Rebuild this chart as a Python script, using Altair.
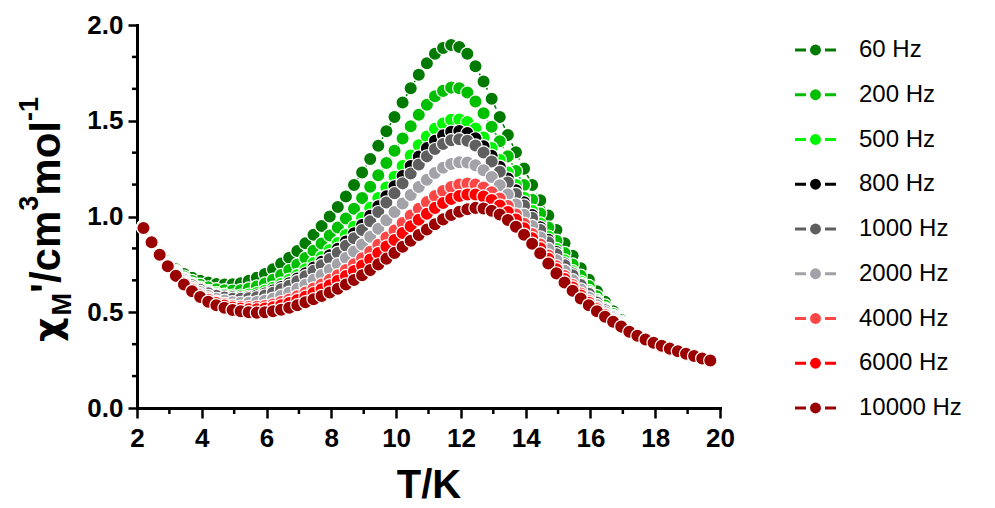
import altair as alt
import pandas as pd

# ---------------- data ----------------
SERIES = ["60 Hz", "200 Hz", "500 Hz", "800 Hz", "1000 Hz",
          "2000 Hz", "4000 Hz", "6000 Hz", "10000 Hz"]
COLORS = ["#007A00", "#00BE00", "#00F500", "#000000", "#5F5F5F",
          "#A2A2A8", "#FF4646", "#FF0000", "#9B0000"]

T = [2.2, 2.45, 2.7, 2.95, 3.2, 3.45, 3.7, 3.95, 4.2, 4.45,
     4.7, 4.95, 5.2, 5.45, 5.7, 5.95, 6.2, 6.45, 6.7, 6.95,
     7.2, 7.45, 7.7, 7.95, 8.2, 8.45, 8.7, 8.95, 9.2, 9.45,
     9.7, 9.95, 10.2, 10.45, 10.7, 10.95, 11.2, 11.45, 11.7, 11.95,
     12.2, 12.45, 12.7, 12.95, 13.2, 13.45, 13.7, 13.95, 14.2, 14.45,
     14.7, 14.95, 15.2, 15.45, 15.7, 15.95, 16.2, 16.45, 16.7, 16.95,
     17.2, 17.45, 17.7, 17.95, 18.2, 18.45, 18.7, 18.95, 19.2, 19.45,
     19.7]

chi_60 = [0.95, 0.88, 0.815, 0.765, 0.725, 0.70, 0.68, 0.665, 0.655, 0.648,
          0.645, 0.646, 0.652, 0.665, 0.68, 0.70, 0.725, 0.755, 0.785, 0.82,
          0.86, 0.905, 0.95, 1.00, 1.05, 1.105, 1.165, 1.23, 1.30, 1.37,
          1.445, 1.52, 1.595, 1.67, 1.74, 1.80, 1.85, 1.88, 1.895, 1.885,
          1.85, 1.785, 1.705, 1.615, 1.52, 1.425, 1.335, 1.25, 1.165, 1.085,
          1.005, 0.93, 0.86, 0.795, 0.73, 0.67, 0.61, 0.555, 0.505, 0.46,
          0.422, 0.39, 0.363, 0.343, 0.327, 0.311, 0.297, 0.284, 0.272, 0.26,
          0.249]

chi_200 = [0.948, 0.876, 0.811, 0.759, 0.716, 0.686, 0.663, 0.644, 0.630, 0.620,
           0.615, 0.613, 0.615, 0.624, 0.635, 0.650, 0.670, 0.695, 0.720, 0.749,
           0.783, 0.821, 0.859, 0.901, 0.943, 0.990, 1.041, 1.096, 1.155, 1.215,
           1.279, 1.343, 1.407, 1.471, 1.531, 1.583, 1.628, 1.656, 1.673, 1.670,
           1.647, 1.600, 1.539, 1.469, 1.393, 1.314, 1.238, 1.164, 1.088, 1.016,
           0.943, 0.873, 0.809, 0.749, 0.691, 0.637, 0.584, 0.535, 0.491, 0.451,
           0.416, 0.387, 0.362, 0.343, 0.327, 0.311, 0.297, 0.284, 0.272, 0.260,
           0.249]

chi_500 = [0.946, 0.873, 0.808, 0.754, 0.710, 0.676, 0.649, 0.628, 0.611, 0.599,
           0.591, 0.587, 0.587, 0.592, 0.600, 0.612, 0.628, 0.649, 0.670, 0.695,
           0.724, 0.757, 0.789, 0.825, 0.862, 0.903, 0.946, 0.994, 1.045, 1.097,
           1.152, 1.208, 1.264, 1.319, 1.372, 1.418, 1.458, 1.486, 1.505, 1.507,
           1.493, 1.459, 1.413, 1.358, 1.296, 1.230, 1.164, 1.098, 1.030, 0.963,
           0.895, 0.830, 0.770, 0.714, 0.660, 0.611, 0.564, 0.520, 0.481, 0.445,
           0.411, 0.384, 0.361, 0.342, 0.326, 0.311, 0.297, 0.284, 0.272, 0.260,
           0.249]

chi_800 = [0.945, 0.872, 0.807, 0.752, 0.707, 0.672, 0.644, 0.622, 0.604, 0.591,
           0.583, 0.578, 0.577, 0.581, 0.587, 0.598, 0.613, 0.632, 0.651, 0.676,
           0.703, 0.733, 0.764, 0.798, 0.832, 0.870, 0.912, 0.956, 1.004, 1.054,
           1.106, 1.158, 1.211, 1.264, 1.313, 1.357, 1.396, 1.424, 1.443, 1.446,
           1.436, 1.408, 1.367, 1.317, 1.260, 1.199, 1.137, 1.074, 1.008, 0.944,
           0.878, 0.814, 0.755, 0.702, 0.649, 0.602, 0.556, 0.515, 0.477, 0.442,
           0.410, 0.383, 0.360, 0.342, 0.326, 0.310, 0.296, 0.283, 0.271, 0.259,
           0.248]

chi_1000 = [0.944, 0.872, 0.807, 0.751, 0.705, 0.669, 0.641, 0.617, 0.599, 0.586,
            0.577, 0.571, 0.570, 0.573, 0.578, 0.588, 0.602, 0.620, 0.638, 0.662,
            0.688, 0.716, 0.746, 0.778, 0.811, 0.847, 0.887, 0.929, 0.975, 1.023,
            1.073, 1.122, 1.173, 1.224, 1.271, 1.314, 1.352, 1.379, 1.398, 1.403,
            1.395, 1.371, 1.334, 1.287, 1.234, 1.177, 1.118, 1.057, 0.993, 0.930,
            0.865, 0.803, 0.745, 0.693, 0.642, 0.596, 0.551, 0.511, 0.474, 0.440,
            0.409, 0.383, 0.360, 0.342, 0.326, 0.310, 0.296, 0.283, 0.271, 0.259,
            0.248]

chi_2000 = [0.943, 0.870, 0.805, 0.748, 0.701, 0.662, 0.631, 0.606, 0.585, 0.570,
            0.560, 0.552, 0.549, 0.550, 0.553, 0.560, 0.571, 0.586, 0.602, 0.622,
            0.644, 0.669, 0.695, 0.722, 0.751, 0.783, 0.817, 0.854, 0.894, 0.936,
            0.980, 1.023, 1.068, 1.112, 1.154, 1.192, 1.227, 1.254, 1.274, 1.283,
            1.282, 1.267, 1.241, 1.206, 1.163, 1.115, 1.063, 1.009, 0.950, 0.891,
            0.830, 0.771, 0.717, 0.667, 0.619, 0.577, 0.537, 0.500, 0.467, 0.436,
            0.405, 0.381, 0.360, 0.342, 0.326, 0.310, 0.296, 0.283, 0.271, 0.259,
            0.248]

chi_4000 = [0.942, 0.867, 0.802, 0.744, 0.696, 0.654, 0.622, 0.594, 0.572, 0.555,
            0.543, 0.534, 0.529, 0.527, 0.528, 0.533, 0.541, 0.553, 0.566, 0.584,
            0.603, 0.624, 0.645, 0.669, 0.693, 0.721, 0.750, 0.782, 0.816, 0.852,
            0.890, 0.927, 0.966, 1.005, 1.041, 1.075, 1.107, 1.133, 1.154, 1.167,
            1.172, 1.167, 1.151, 1.127, 1.094, 1.055, 1.011, 0.962, 0.909, 0.854,
            0.796, 0.740, 0.689, 0.642, 0.598, 0.559, 0.522, 0.489, 0.459, 0.431,
            0.402, 0.379, 0.359, 0.341, 0.325, 0.310, 0.296, 0.283, 0.271, 0.259,
            0.248]

chi_6000 = [0.941, 0.866, 0.801, 0.742, 0.693, 0.650, 0.617, 0.588, 0.565, 0.548,
            0.535, 0.525, 0.519, 0.516, 0.515, 0.519, 0.526, 0.536, 0.548, 0.564,
            0.581, 0.600, 0.620, 0.641, 0.664, 0.689, 0.715, 0.744, 0.775, 0.809,
            0.843, 0.877, 0.914, 0.949, 0.983, 1.014, 1.045, 1.070, 1.092, 1.107,
            1.115, 1.115, 1.105, 1.086, 1.058, 1.024, 0.984, 0.938, 0.887, 0.834,
            0.779, 0.725, 0.674, 0.629, 0.587, 0.550, 0.515, 0.484, 0.455, 0.428,
            0.400, 0.378, 0.358, 0.341, 0.325, 0.310, 0.296, 0.283, 0.271, 0.259,
            0.248]

chi_10000 = [0.94, 0.865, 0.80, 0.74, 0.69, 0.645, 0.61, 0.58, 0.555, 0.537,
             0.523, 0.512, 0.505, 0.50, 0.498, 0.50, 0.505, 0.513, 0.523, 0.537,
             0.552, 0.568, 0.585, 0.603, 0.623, 0.645, 0.668, 0.693, 0.72, 0.75,
             0.78, 0.81, 0.842, 0.873, 0.903, 0.932, 0.96, 0.985, 1.008, 1.025,
             1.038, 1.045, 1.042, 1.03, 1.01, 0.982, 0.947, 0.905, 0.858, 0.808,
             0.755, 0.703, 0.655, 0.612, 0.572, 0.537, 0.505, 0.476, 0.45, 0.425,
             0.398, 0.377, 0.358, 0.341, 0.325, 0.31, 0.296, 0.283, 0.271, 0.259,
             0.248]

VALUES = [chi_60, chi_200, chi_500, chi_800, chi_1000,
          chi_2000, chi_4000, chi_6000, chi_10000]

X_TICKS = [2, 4, 6, 8, 10, 12, 14, 16, 18, 20]
X_MINOR = [3, 5, 7, 9, 11, 13, 15, 17, 19]
Y_TICKS = [0.0, 0.5, 1.0, 1.5, 2.0]
Y_MINOR = [1 / 6, 2 / 6, 4 / 6, 5 / 6, 7 / 6, 8 / 6, 10 / 6, 11 / 6]

# ---------------- tables ----------------
rows = []
for name, vals in zip(SERIES, VALUES):
    for t, v in zip(T, vals):
        rows.append({"series": name, "T": t, "chi": v})
df = pd.DataFrame(rows)
legend_df = pd.DataFrame({"series": SERIES})
one = pd.DataFrame({"k": [0]})

FONT = "Liberation Sans"
W, H = 583, 383

color = alt.Color("series:N", scale=alt.Scale(domain=SERIES, range=COLORS), legend=None)

x_scale = alt.Scale(domain=[2, 20], nice=False, zero=False)
y_scale = alt.Scale(domain=[0, 2], nice=False)

x_axis = alt.Axis(values=X_TICKS, format="d", grid=False, tickSize=10, tickWidth=2.5,
                  tickColor="black", domainColor="black", domainWidth=3, domainCap="square",
                  labelFont=FONT, labelFontSize=26, labelFontWeight="bold", labelColor="black",
                  labelPadding=7, labelFlush=False, title="T/K", titleFont=FONT,
                  titleFontSize=40, titleFontWeight="bold", titleColor="black", titlePadding=14)
y_axis = alt.Axis(values=Y_TICKS, format=".1f", grid=False, tickSize=9, tickWidth=2.5,
                  tickColor="black", domainColor="black", domainWidth=3, domainCap="square",
                  labelFont=FONT, labelFontSize=26, labelFontWeight="bold", labelColor="black",
                  labelPadding=5, title=None)

lines = alt.Chart(df).mark_line(strokeDash=[4, 3], strokeWidth=1.5).encode(
    x=alt.X("T:Q", scale=x_scale, axis=x_axis),
    y=alt.Y("chi:Q", scale=y_scale, axis=y_axis),
    color=color, detail="series:N")

points = alt.Chart(df).mark_circle(size=175, opacity=1, stroke="white", strokeWidth=1.2).encode(
    x=alt.X("T:Q", scale=x_scale, axis=x_axis),
    y=alt.Y("chi:Q", scale=y_scale, axis=None),
    color=color)

minor_x = alt.Chart(pd.DataFrame({"T": X_MINOR})).mark_rule(color="black", strokeWidth=2.5).encode(
    x=alt.X("T:Q", scale=x_scale, axis=x_axis),
    y=alt.value(H), y2=alt.value(H + 6))

minor_y = alt.Chart(pd.DataFrame({"chi": Y_MINOR})).mark_rule(color="black", strokeWidth=2.5).encode(
    y=alt.Y("chi:Q", scale=y_scale, axis=None),
    x=alt.value(-5), x2=alt.value(0))

# legend (dash - dot - dash, then label)
ly = alt.Y("series:N", sort=SERIES, axis=None,
           scale=alt.Scale(type="point", domain=SERIES, range=[25, 383], padding=0))
leg_dash = alt.Chart(legend_df).mark_rule(strokeWidth=3, strokeDash=[11, 19]).encode(
    x=alt.value(658), x2=alt.value(699), y=ly, color=color)
leg_dot = alt.Chart(legend_df).mark_circle(size=120, opacity=1).encode(
    x=alt.value(678.5), y=ly, color=color)
leg_txt = alt.Chart(legend_df).mark_text(align="left", baseline="middle", font=FONT,
                                         fontSize=24, color="black").encode(
    x=alt.value(722), y=ly, text="series:N")

# y-axis title with sub/superscripts, rotated
def piece(txt, xpos, ypos, size, font=FONT):
    return alt.Chart(one).mark_text(angle=270, align="left", baseline="alphabetic", font=font,
                                    fontSize=size, fontWeight="bold", color="black").encode(
        x=alt.value(xpos), y=alt.value(ypos), text=alt.value(txt))

BIG, SMALL = 42, 27
title_pieces = [
    piece("\u03c7", -77, 317, 38, "DejaVu Sans"),
    piece("M", -66, 290.6, SMALL),
    piece("'", -77, 268.1, BIG),
    piece("/cm", -77, 258.1, BIG),
    piece("3", -99, 185.7, SMALL),
    piece("mol", -77, 170.7, BIG),
    piece("-1", -99, 96, SMALL),
]

chart = alt.layer(lines, points, minor_x, minor_y, leg_dash, leg_dot, leg_txt, *title_pieces).resolve_scale(
    y="independent").properties(
    width=W, height=H,
    autosize=alt.AutoSizeParams(type="none"),
    padding={"left": 137, "top": 25, "right": 275, "bottom": 100},
    background="white",
).configure_view(stroke=None)

chart.save("out.html", embed_options={"renderer": "svg", "actions": False})
